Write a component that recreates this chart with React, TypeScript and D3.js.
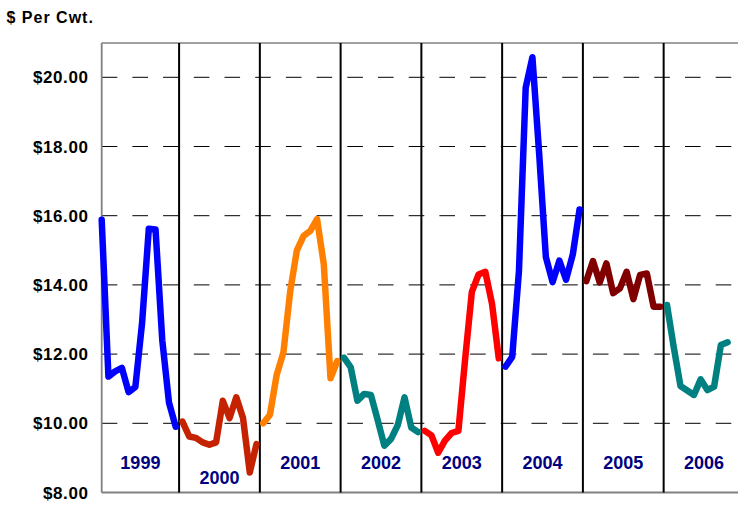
import React from "react";
import * as d3 from "d3";

const years = ["1999", "2000", "2001", "2002", "2003", "2004", "2005", "2006"];
const colors = ["#0000FF", "#C42200", "#FF8000", "#008080", "#FF0000", "#0000FF", "#800000", "#008080"];

const v1999 = [15.88, 11.35, 11.5, 11.6, 10.9, 11.05, 12.9, 15.62, 15.6, 12.4, 10.6, 9.9];
const v2000 = [10.05, 9.62, 9.58, 9.45, 9.38, 9.45, 10.65, 10.15, 10.75, 10.15, 8.58, 9.4];
const v2001 = [10.0, 10.25, 11.4, 12.05, 13.8, 15.0, 15.42, 15.56, 15.9, 14.6, 11.3, 11.8];
const v2002 = [11.9, 11.62, 10.65, 10.85, 10.82, 10.1, 9.35, 9.55, 9.95, 10.75, 9.88, 9.75];
const v2003 = [9.78, 9.65, 9.15, 9.5, 9.72, 9.78, 11.85, 13.8, 14.3, 14.38, 13.45, 11.88];
const v2004 = [11.64, 11.92, 14.4, 19.7, 20.58, 17.8, 14.8, 14.08, 14.7, 14.15, 14.88, 16.18];
const v2005 = [14.11, 14.69, 14.07, 14.62, 13.76, 13.9, 14.38, 13.59, 14.29, 14.33, 13.37, 13.37];
const v2006 = [13.42, 12.2, 11.08, 10.95, 10.82, 11.27, 10.96, 11.06, 12.26, 12.34];

const series = [v1999, v2000, v2001, v2002, v2003, v2004, v2005, v2006];
const yTicks = [8, 10, 12, 14, 16, 18, 20];
const gridValues = [10, 12, 14, 16, 18, 20];

export default function App() {
  const W = 738, H = 505;
  const left = 101.7, top = 43, bottom = 492.5;
  const x = d3.scaleLinear().domain([0, 96]).range([left, left + 96 * 6.73]);
  const y = d3.scaleLinear().domain([8, 21]).range([bottom, bottom - 13 * 34.6]);
  const line = d3.line<number>().x((d, i) => x(i)).y((d) => y(d));
  const font = "'Liberation Sans', Arial, sans-serif";

  return (
    <svg width={W} height={H} style={{ position: "absolute", left: 0, top: 0, background: "#fff" }}>
      <text x={6.5} y={22.7} fontFamily={font} fontWeight="bold" fontSize={16} letterSpacing={1} fill="#000">
        $ Per Cwt.
      </text>
      {gridValues.map((v) => (
        <line key={v} x1={left} x2={W} y1={y(v)} y2={y(v)} stroke="#000" strokeWidth={1} strokeDasharray="15.6 15.1" />
      ))}
      {yTicks.map((v) => (
        <text key={v} x={88.5} y={y(v)} dy="0.36em" textAnchor="end" fontFamily={font} fontWeight="bold" fontSize={17} letterSpacing={0.6} fill="#000">
          {d3.format("$.2f")(v)}
        </text>
      ))}
      <line x1={left} x2={W} y1={top} y2={top} stroke="#808080" strokeWidth={1.5} />
      <line x1={left} x2={left} y1={top} y2={bottom} stroke="#808080" strokeWidth={1.8} />
      <line x1={left} x2={W} y1={bottom} y2={bottom} stroke="#808080" strokeWidth={2} />
      {years.slice(1).map((yr, k) => {
        const sx = x(12 * (k + 1) - 0.5);
        return <line key={yr} x1={sx} x2={sx} y1={top} y2={bottom} stroke="#000" strokeWidth={2} />;
      })}
      {series.map((vals, k) => (
        <path
          key={years[k]}
          d={line.x((d, i) => x(12 * k + i))(vals) || ""}
          fill="none"
          stroke={colors[k]}
          strokeWidth={6.5}
          strokeLinejoin="round"
          strokeLinecap="round"
        />
      ))}
      {years.map((yr, k) => {
        const a = Math.max(left, x(12 * k - 0.5));
        const b = x(12 * (k + 1) - 0.5);
        return (
          <text key={yr} x={(a + b) / 2} y={yr === "2000" ? 484 : 468.5} textAnchor="middle" fontFamily={font} fontWeight="bold" fontSize={18} fill="#000080">
            {yr}
          </text>
        );
      })}
    </svg>
  );
}
